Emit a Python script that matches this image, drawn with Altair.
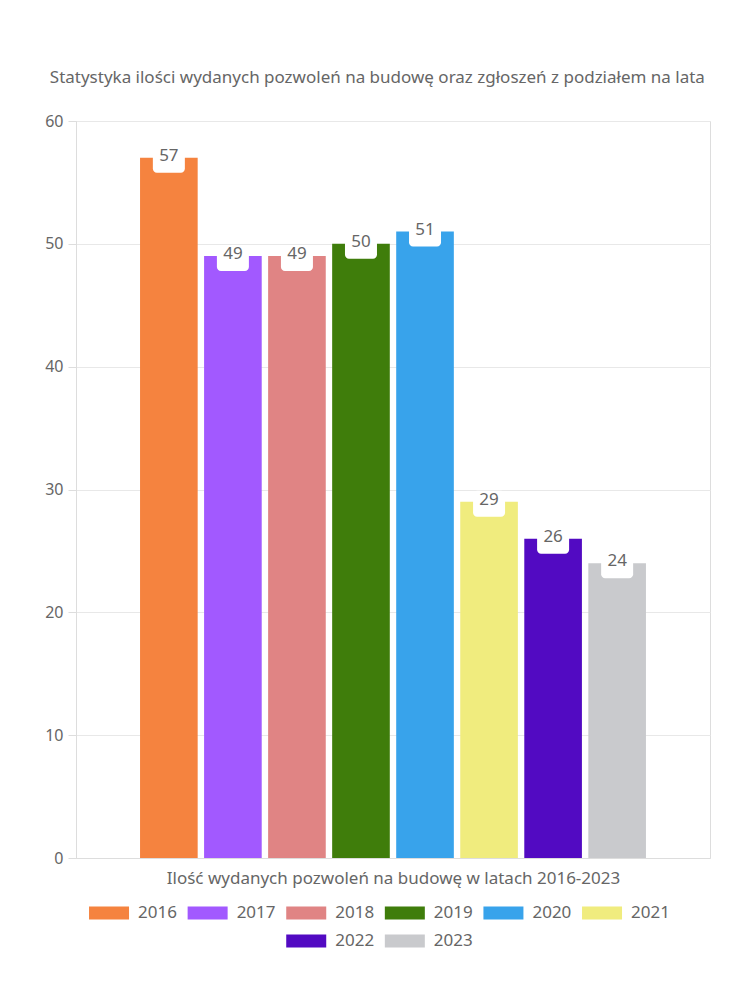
import altair as alt
import pandas as pd

years = ["2016", "2017", "2018", "2019", "2020", "2021", "2022", "2023"]
values = [57, 49, 49, 50, 51, 29, 26, 24]
colors = ["#F5833F", "#A259FF", "#E08484", "#3F7D0B", "#38A3EB", "#F0EC7E", "#520AC2", "#C9CACD"]
legend_row = [0, 0, 0, 0, 0, 0, 1, 1]
legend_slot = [0, 1, 2, 3, 4, 5, 2, 3]

title_text = "Statystyka ilości wydanych pozwoleń na budowę oraz zgłoszeń z podziałem na lata"
x_title = "Ilość wydanych pozwoleń na budowę w latach 2016-2023"

FONT = "Noto Sans"
TXT = "#666666"

df = pd.DataFrame({"year": years, "value": values, "row": legend_row, "slot": legend_slot})

color_scale = alt.Scale(domain=years, range=colors)

base = alt.Chart(df).encode(
    x=alt.X(
        "year:N",
        sort=years,
        scale=alt.Scale(paddingInner=0.1, paddingOuter=1),
        axis=alt.Axis(
            labels=False, ticks=False, title=x_title, titleFontSize=17,
            titleColor=TXT, titleFont=FONT, titleFontWeight="normal",
            domainColor="#dddddd", titlePadding=12,
        ),
    )
)

bars = base.mark_bar().encode(
    y=alt.Y(
        "value:Q",
        scale=alt.Scale(domain=[0, 60]),
        axis=alt.Axis(
            values=[0, 10, 20, 30, 40, 50, 60], title=None, labelFontSize=16,
            labelColor=TXT, labelFont=FONT, tickColor="#dddddd", tickSize=8,
            domainColor="#dddddd", gridColor="#e8e8e8", labelPadding=5,
        ),
    ),
    color=alt.Color("year:N", scale=color_scale, legend=None),
)

boxes = base.mark_tick(
    color="white", thickness=26, size=32, opacity=1, cornerRadius=4, yOffset=2
).encode(y="value:Q")

labels = base.mark_text(fontSize=17, color=TXT, font=FONT, dy=-2).encode(
    y="value:Q", text="value:Q"
)

main = (bars + boxes + labels).properties(width=634, height=737)

leg = alt.Chart(df).encode(
    x=alt.X("slot:Q", scale=alt.Scale(domain=[-0.335, 6.095]), axis=None),
    y=alt.Y("row:O", axis=None, scale=alt.Scale(paddingInner=0, paddingOuter=0)),
)
sym = leg.mark_point(
    shape="M-1,-0.33H1V0.33H-1Z", filled=True, size=1600, opacity=1
).encode(color=alt.Color("year:N", scale=color_scale, legend=None))
lab = leg.mark_text(align="left", dx=29, fontSize=17, color=TXT, font=FONT).encode(
    text="year:N"
)
legend = (sym + lab).properties(
    width=634, height=56, view=alt.ViewBackground(strokeOpacity=0)
)

chart = (
    alt.vconcat(main, legend, spacing=12)
    .properties(
        title=alt.TitleParams(
            title_text, fontSize=17, color=TXT, font=FONT,
            fontWeight="normal", anchor="middle", offset=26,
        ),
        padding={"left": 44, "top": 68, "right": 36, "bottom": 10},
    )
    .configure_view(stroke="#e8e8e8")
    .configure(background="white")
)

chart.save("out.html", embed_options={"renderer": "svg", "actions": False})
